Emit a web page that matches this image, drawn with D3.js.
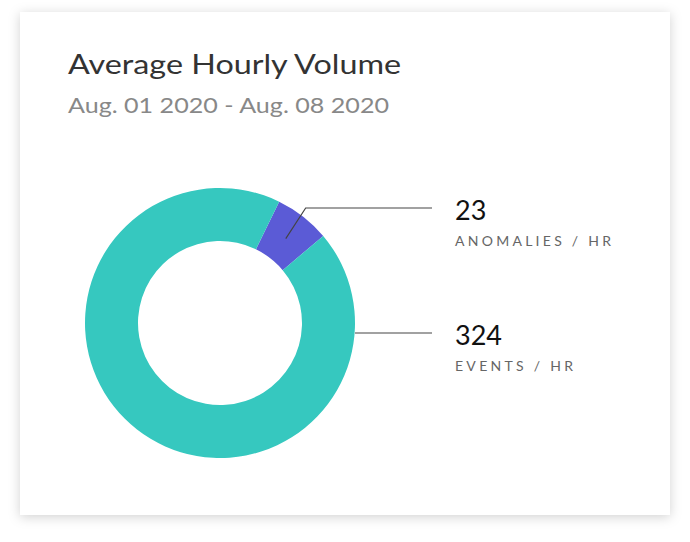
<!DOCTYPE html>
<html><head><meta charset="utf-8">
<script src="https://cdn.jsdelivr.net/npm/d3@7"></script>
<style>body{margin:0;background:#fff;font-family:Lato,"Open Sans",sans-serif;}</style>
</head><body>
<svg id="c" width="690" height="542"></svg>
<script>
const categories = ["ANOMALIES / HR", "EVENTS / HR"];
const values = [23, 324];
const colors = ["#5b5bd6", "#36c8bf"];
const title = "Average Hourly Volume";
const subtitle = "Aug. 01 2020 - Aug. 08 2020";

const svg = d3.select("#c");
const defs = svg.append("defs");
const f = defs.append("filter").attr("id","sh").attr("x","-10%").attr("y","-10%").attr("width","120%").attr("height","120%");
f.append("feDropShadow").attr("dx",0).attr("dy",2).attr("stdDeviation",6).attr("flood-color","#000").attr("flood-opacity",0.18);
svg.append("rect").attr("x",20).attr("y",12).attr("width",650).attr("height",503).attr("fill","#fff").attr("filter","url(#sh)");

svg.append("text").attr("x",68).attr("y",74).attr("font-size",27).attr("fill","#333")
  .attr("textLength",333).attr("lengthAdjust","spacingAndGlyphs").text(title);
svg.append("text").attr("x",68).attr("y",113).attr("font-size",21).attr("fill","#888")
  .attr("textLength",321).attr("lengthAdjust","spacingAndGlyphs").text(subtitle);

const cx=220, cy=323, R=135, r=82;
const start = 26*Math.PI/180;
const pie = d3.pie().sort(null).startAngle(start).endAngle(start+2*Math.PI);
const arcs = pie(values);
const arc = d3.arc().innerRadius(r).outerRadius(R);
const g = svg.append("g").attr("transform",`translate(${cx},${cy})`);
g.selectAll("path").data(arcs).join("path").attr("d",arc).attr("fill",(d,i)=>colors[i]);

const lx = 432;
const a0 = arcs[0], mid0 = (a0.startAngle+a0.endAngle)/2;
const p0 = [cx+ (r+25)*Math.sin(mid0), cy-(r+25)*Math.cos(mid0)];
const y0 = 208, y1 = 333;
svg.append("polyline").attr("points",`${p0[0]},${p0[1]} ${p0[0]+ (p0[1]-y0)*0.65},${y0} ${lx},${y0}`)
  .attr("fill","none").attr("stroke","#444").attr("stroke-width",1.2);
svg.append("line").attr("x1",cx+R).attr("y1",y1).attr("x2",lx).attr("y2",y1).attr("stroke","#444").attr("stroke-width",1.2);

const lens = [156, 118];
[y0,y1].forEach((y,i)=>{
  svg.append("text").attr("x",455).attr("y",y+12).attr("font-size",27).attr("fill","#111").text(values[i]);
  svg.append("text").attr("x",455).attr("y",y+38).attr("font-size",14).attr("fill","#666")
    .attr("textLength",lens[i]).attr("lengthAdjust","spacing").text(categories[i]);
});
</script></body></html>
